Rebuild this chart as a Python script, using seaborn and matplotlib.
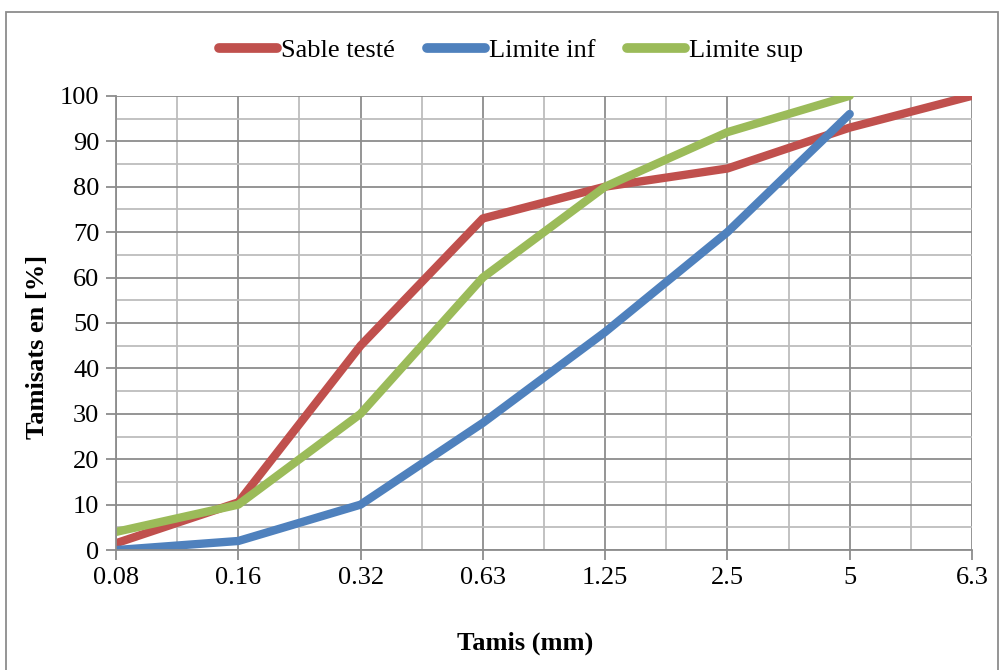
import pandas as pd
import matplotlib.pyplot as plt
import matplotlib.patches as mpatches
import seaborn as sns

# sieve sizes (mm), shown as equally spaced categories
tamis = ["0.08", "0.16", "0.32", "0.63", "1.25", "2.5", "5", "6.3"]
sable_teste = [1.5, 10.5, 45, 73, 80, 84, 93, 100]
limite_inf = [0, 2, 10, 28, 48, 70, 96, None]
limite_sup = [4, 10, 30, 60, 80, 92, 100, None]

series_names = ["Sable testé", "Limite inf", "Limite sup"]
series_colors = ["#C0504D", "#4F81BD", "#9BBB59"]

df = pd.DataFrame({"Tamis": tamis, "Sable testé": sable_teste,
                   "Limite inf": limite_inf, "Limite sup": limite_sup})
long_df = df.melt(id_vars="Tamis", var_name="Série", value_name="Tamisat").dropna()
long_df["pos"] = long_df["Tamis"].map({t: i for i, t in enumerate(tamis)})

sns.set_style("white")
plt.rcParams["font.family"] = ["Liberation Serif", "DejaVu Serif"]
plt.rcParams["text.color"] = "black"
plt.rcParams["axes.labelcolor"] = "black"
plt.rcParams["xtick.labelcolor"] = "black"
plt.rcParams["ytick.labelcolor"] = "black"

fig = plt.figure(figsize=(10, 6.7), dpi=100)
ax = fig.add_axes([0.116, 0.179, 0.856, 0.678])

sns.lineplot(data=long_df, x="pos", y="Tamisat", hue="Série",
             hue_order=series_names, palette=series_colors,
             linewidth=6, sort=False, ax=ax, legend=False,
             solid_capstyle="round", solid_joinstyle="round")

ax.set_xlim(0, len(tamis) - 1)
ax.set_ylim(0, 100)
ax.set_xticks(range(len(tamis)))
ax.set_xticklabels(tamis)
ax.set_yticks(range(0, 101, 10))
ax.set_xticks([i + 0.5 for i in range(len(tamis) - 1)], minor=True)
ax.set_yticks(range(5, 100, 10), minor=True)

ax.grid(which="major", color="#8c8c8c", linewidth=1.3)
ax.grid(which="minor", color="#bdbdbd", linewidth=1.3)
ax.set_axisbelow(True)
for side in ["top", "right"]:
    ax.spines[side].set_visible(False)
for side in ["left", "bottom"]:
    ax.spines[side].set_color("#8c8c8c")
    ax.spines[side].set_linewidth(1.3)

ax.tick_params(axis="both", which="major", labelsize=19, length=7,
               width=1.3, color="#8c8c8c", direction="out", pad=5,
               bottom=True, left=True)
ax.tick_params(axis="both", which="minor", length=0)

ax.set_xlabel("Tamis (mm)", fontsize=19, fontweight="bold")
ax.set_ylabel("Tamisats en [%]", fontsize=19, fontweight="bold")
ax.xaxis.set_label_coords(0.478, -0.18)
ax.yaxis.set_label_coords(-0.078, 0.447)

handles = [plt.Line2D([], [], color=c, linewidth=7, solid_capstyle="round")
           for c in series_colors]
fig.legend(handles, series_names, loc="center", bbox_to_anchor=(0.511, 0.925),
           ncol=3, frameon=False, fontsize=19, handlelength=2.2,
           handletextpad=0.15, columnspacing=1.2)

fig.patches.append(mpatches.Rectangle((0.006, -0.01), 0.992, 0.992,
                                      transform=fig.transFigure, fill=False,
                                      edgecolor="#8c8c8c", linewidth=1.3))

fig.savefig("out.png", dpi=100)
